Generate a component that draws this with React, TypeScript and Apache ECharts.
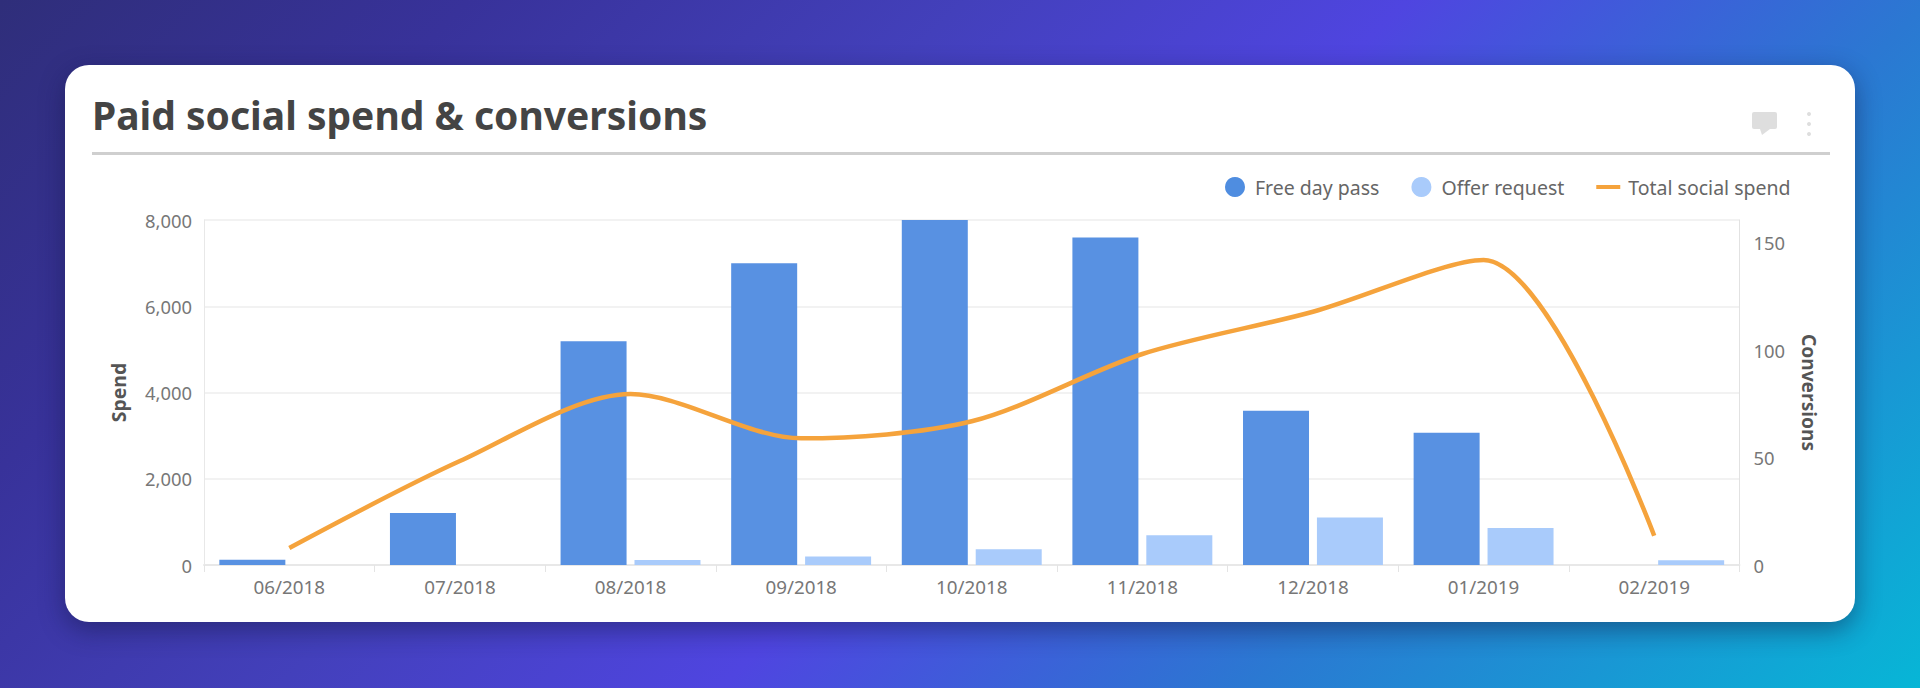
import React, { useEffect, useRef } from "react";
import * as echarts from "echarts";

const months = ["06/2018", "07/2018", "08/2018", "09/2018", "10/2018", "11/2018", "12/2018", "01/2019", "02/2019"];
const freeDayPass = [2.5, 24.2, 104.1, 140.4, 160.5, 152.4, 71.8, 61.5, 0];
const offerRequest = [0, 0, 2.3, 3.9, 7.3, 13.8, 22.1, 17.2, 2.2];
const totalSocialSpend = [394, 2410, 3965, 2938, 3332, 4893, 5873, 7073, 680];

const FONT = "'Noto Sans', sans-serif";

export default function App() {
  const ref = useRef<HTMLDivElement>(null);
  useEffect(() => {
    const chart = echarts.init(ref.current!, null, { renderer: "svg" });
    chart.setOption({
      animation: false,
      backgroundColor: "transparent",
      title: {
        text: "Paid social spend & conversions",
        left: 92,
        top: 95,
        padding: 0,
        textStyle: { fontFamily: FONT, fontSize: 39, fontWeight: "bold", color: "#444444" },
      },
      legend: {
        left: 1225,
        top: 177,
        padding: 0,
        itemWidth: 24,
        itemHeight: 20,
        itemGap: 32,
        textStyle: { fontFamily: FONT, fontSize: 19.5, color: "#666666", padding: [0, 0, 0, 3] },
        data: [
          { name: "Free day pass", icon: "circle", itemStyle: { color: "#4f8de0" } },
          { name: "Offer request", icon: "circle", itemStyle: { color: "#a9cbfb" } },
          { name: "Total social spend", icon: "path://M0 0h24v4H0z", itemStyle: { color: "#f5a33c" } },
        ],
      },
      grid: { left: 204, right: 180.5, top: 220, bottom: 123 },
      xAxis: {
        type: "category",
        data: months,
        axisLine: { lineStyle: { color: "#e8e8e8", width: 2 } },
        axisTick: { show: true, length: 7, lineStyle: { color: "#e4e4e4" } },
        axisLabel: { fontFamily: FONT, fontSize: 18.8, color: "#777777", margin: 12 },
      },
      yAxis: [
        {
          type: "value",
          min: 0,
          max: 8000,
          interval: 2000,
          name: "Spend",
          nameLocation: "middle",
          nameGap: 76,
          nameRotate: 90,
          nameTextStyle: { fontFamily: FONT, fontSize: 19.4, fontWeight: "bold", color: "#555555" },
          axisLine: { show: true, lineStyle: { color: "#e8e8e8" } },
          axisTick: { show: false },
          splitLine: { lineStyle: { color: "#f2f2f2", width: 2 } },
          axisLabel: {
            fontFamily: FONT,
            fontSize: 18.4,
            color: "#777777",
            margin: 12,
            formatter: (v: number) => v.toLocaleString("en-US"),
          },
        },
        {
          type: "value",
          min: 0,
          max: 160.5,
          interval: 50,
          name: "Conversions",
          nameLocation: "middle",
          nameGap: 60,
          nameRotate: -90,
          nameTextStyle: { fontFamily: FONT, fontSize: 19.2, fontWeight: "bold", color: "#555555" },
          axisLine: { show: true, lineStyle: { color: "#e2e2e2" } },
          axisTick: { show: false },
          splitLine: { show: false },
          axisLabel: {
            fontFamily: FONT,
            fontSize: 18.4,
            color: "#777777",
            margin: 14,
            showMaxLabel: false,
            padding: [0, 0, 3, 0],
          },
        },
      ],
      series: [
        {
          name: "Free day pass",
          type: "bar",
          yAxisIndex: 1,
          data: freeDayPass,
          barWidth: 66,
          barGap: "12%",
          itemStyle: { color: "#5891e2" },
        },
        {
          name: "Offer request",
          type: "bar",
          yAxisIndex: 1,
          data: offerRequest,
          barWidth: 66,
          itemStyle: { color: "#a9cbfb" },
        },
        {
          name: "Total social spend",
          type: "line",
          yAxisIndex: 0,
          data: totalSocialSpend,
          smooth: 0.3,
          symbol: "none",
          z: 5,
          lineStyle: { color: "#f5a33c", width: 4.5 },
          itemStyle: { color: "#f5a33c" },
        },
      ],
      graphic: [
        { type: "rect", shape: { x: 92, y: 152, width: 1738, height: 3 }, style: { fill: "#cfcfcf" } },
        { type: "rect", shape: { x: 1752, y: 112, width: 25, height: 17, r: 2 }, style: { fill: "#dedede" } },
        { type: "polygon", shape: { points: [[1760, 129], [1770, 129], [1762, 135]] }, style: { fill: "#dedede" } },
        { type: "circle", shape: { cx: 1809, cy: 114, r: 2 }, style: { fill: "#dedede" } },
        { type: "circle", shape: { cx: 1809, cy: 124, r: 2 }, style: { fill: "#dedede" } },
        { type: "circle", shape: { cx: 1809, cy: 134, r: 2 }, style: { fill: "#dedede" } },
      ],
    });
    return () => chart.dispose();
  }, []);

  return (
    <div
      style={{
        position: "fixed",
        left: 0,
        top: 0,
        width: 1920,
        height: 688,
        overflow: "hidden",
        background:
          "linear-gradient(135deg, #2f2e7a 0%, #38329a 18%, #4340bb 37%, #4f45e0 54%, #2b78d2 74%, #07b6d6 100%)",
      }}
    >
      <div
        style={{
          position: "absolute",
          left: 65,
          top: 65,
          width: 1790,
          height: 557,
          borderRadius: 24,
          background: "#ffffff",
          boxShadow: "0 8px 26px rgba(15,20,60,0.45)",
        }}
      />
      <div ref={ref} style={{ position: "absolute", left: 0, top: 0, width: 1920, height: 688 }} />
    </div>
  );
}
